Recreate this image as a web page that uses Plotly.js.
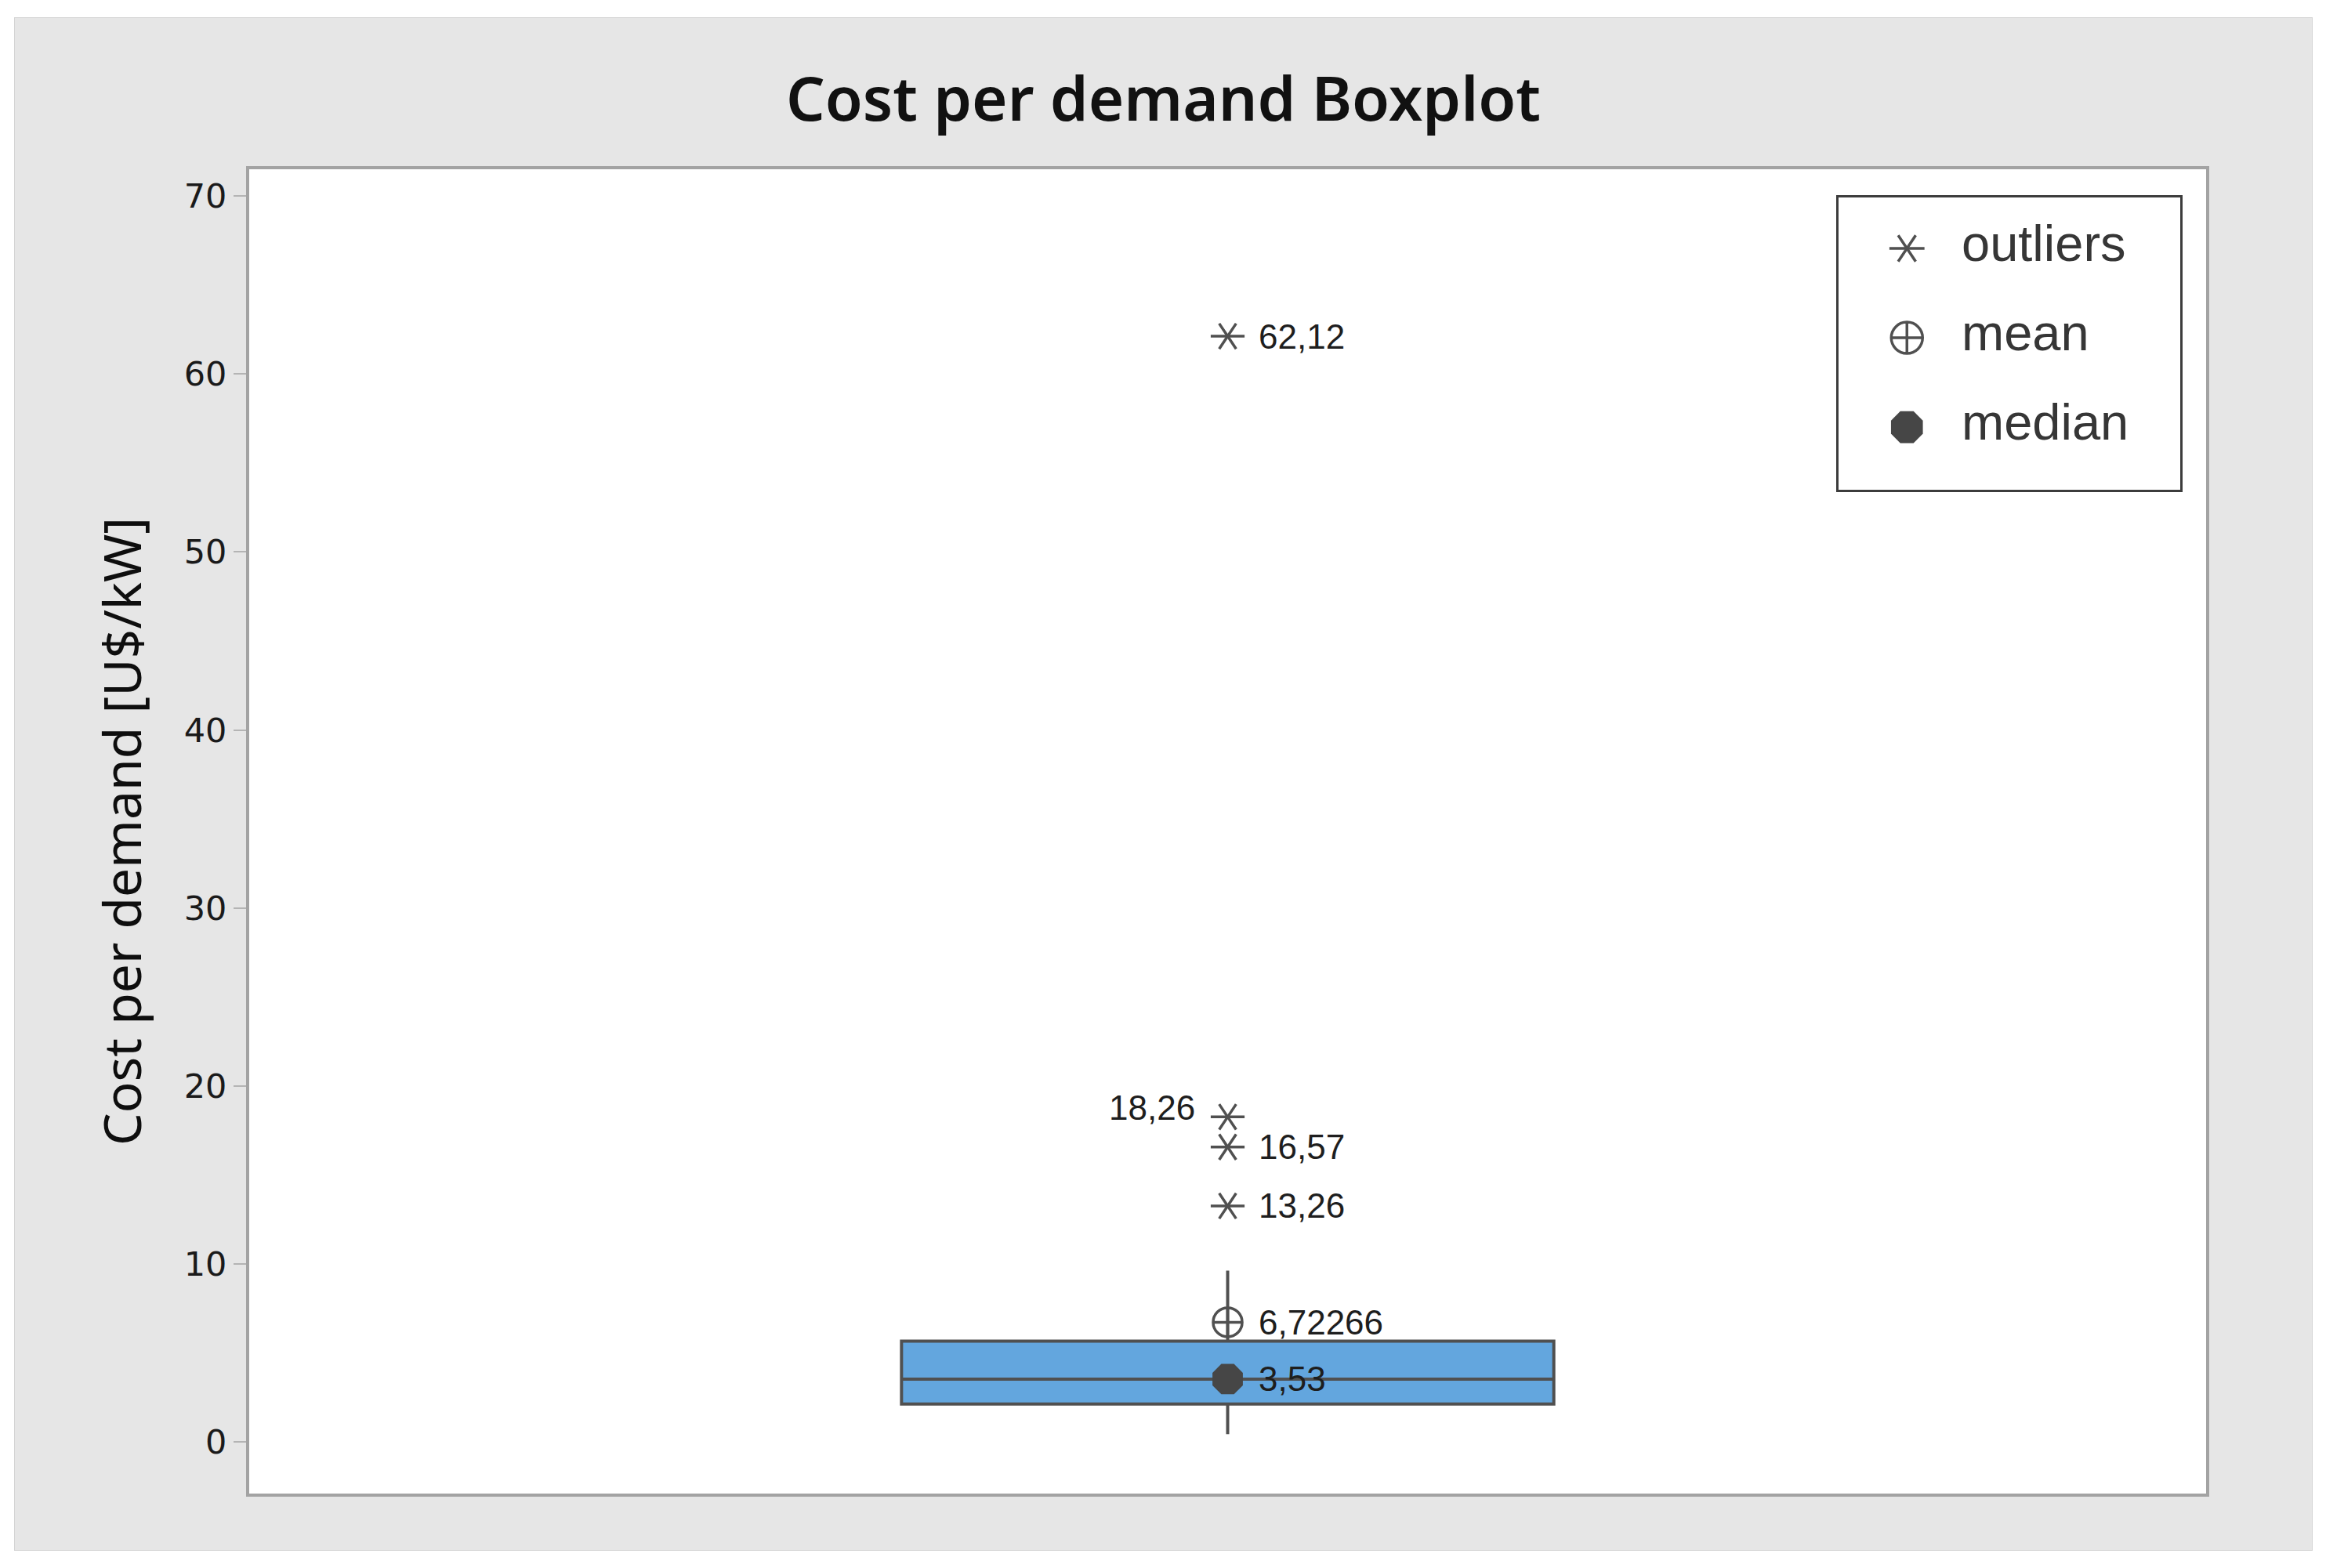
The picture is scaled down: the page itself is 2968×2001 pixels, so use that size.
<!DOCTYPE html>
<html>
<head>
<meta charset="utf-8">
<script src="https://cdn.plot.ly/plotly-3.0.1.min.js"></script>
<style>
  html, body { margin: 0; padding: 0; background: #ffffff; }
  #chart {
    position: absolute;
    left: 19px;
    top: 23px;
    width: 2931px;
    height: 1955px;
    box-shadow: 0 0 0 1px #d4d4d4;
  }
</style>
</head>
<body>
<div id="chart"></div>
<script>
// summary values
const boxQ1 = [2.13];
const boxMedian = [3.53];
const boxQ3 = [5.66];
const boxLowerFence = [0.44];
const boxUpperFence = [9.62];
const meanValue = [6.72266];

const outlierValues = [62.12, 18.26, 16.57, 13.26];
const outlierLabels = ["62,12", "18,26", "16,57", "13,26"];
const meanLabel = "6,72266";
const medianLabel = "3,53";

const legendLabels = ["outliers", "mean", "median"];
const yTickValues = [0, 10, 20, 30, 40, 50, 60, 70];

const chartEl = document.getElementById("chart");

const GRAY = "#505050";
const DARK = "#464646";
const LABEL_FONT = { family: "Liberation Sans, Arial, sans-serif", size: 44, color: "#1e1e1e" };

function sameX(values, x) {
  return values.map(function() { return x; });
}

function buildBoxTrace() {
  return {
    type: "box",
    x: [0],
    q1: boxQ1,
    median: boxMedian,
    q3: boxQ3,
    lowerfence: boxLowerFence,
    upperfence: boxUpperFence,
    width: 1,
    whiskerwidth: 0,
    fillcolor: "#63a6de",
    line: { color: GRAY, width: 4 },
    boxpoints: false,
    hoverinfo: "skip",
    showlegend: false,
  };
}

// markers for one symbol; axes default to the main plot
function markerTrace(xs, ys, symbol, size, extra) {
  const trace = {
    type: "scatter",
    mode: "markers",
    x: xs,
    y: ys,
    marker: {
      symbol: symbol,
      angle: symbol.indexOf("y-") === 0 ? 90 : 0,
      size: size,
      color: symbol === "octagon" ? DARK : GRAY,
      line: { color: GRAY, width: symbol === "octagon" ? 0 : 3.5 },
    },
    hoverinfo: "y",
    showlegend: false,
  };
  return Object.assign(trace, extra || {});
}

// the Minitab asterisk has six spokes: two rotated "y" symbols on top of each other
function buildPlotMarkers() {
  return [
    markerTrace(sameX(outlierValues, 0), outlierValues, "y-up-open", 27),
    markerTrace(sameX(outlierValues, 0), outlierValues, "y-down-open", 27),
    markerTrace(sameX(meanValue, 0), meanValue, "circle-cross-open", 37),
    markerTrace(sameX(boxMedian, 0), boxMedian, "octagon", 42),
  ];
}

function valueAnnotation(y, text, side) {
  return {
    xref: "x",
    yref: "y",
    x: 0,
    y: y,
    text: text,
    showarrow: false,
    xanchor: side === "left" ? "right" : "left",
    xshift: side === "left" ? -40 : 37,
    yshift: side === "left" ? 12 : 0,
    font: LABEL_FONT,
  };
}

function buildAnnotations() {
  const notes = outlierValues.map(function(value, i) {
    // 18,26 sits on the left so it does not collide with 16,57
    const side = outlierLabels[i] === "18,26" ? "left" : "right";
    return valueAnnotation(value, outlierLabels[i], side);
  });
  notes.push(valueAnnotation(meanValue[0], meanLabel, "right"));
  notes.push(valueAnnotation(boxMedian[0], medianLabel, "right"));
  return notes;
}

// hand made legend on its own small pair of axes, so the symbols can be big
function buildLegendTraces() {
  const onLegend = { xaxis: "x2", yaxis: "y2", hoverinfo: "skip" };
  return [
    markerTrace([0.2], [legendLabels[0]], "y-up-open", 28, onLegend),
    markerTrace([0.2], [legendLabels[0]], "y-down-open", 28, onLegend),
    markerTrace([0.2], [legendLabels[1]], "circle-cross-open", 40, onLegend),
    markerTrace([0.2], [legendLabels[2]], "octagon", 44, onLegend),
    {
      type: "scatter",
      mode: "text",
      xaxis: "x2",
      yaxis: "y2",
      x: sameX(legendLabels, 0.36),
      y: legendLabels,
      text: legendLabels,
      textposition: "middle right",
      textfont: { family: "Liberation Sans, Arial, sans-serif", size: 65, color: "#363636" },
      hoverinfo: "skip",
      showlegend: false,
    },
  ];
}

function renderChart() {
  const traces = [buildBoxTrace()]
    .concat(buildPlotMarkers())
    .concat(buildLegendTraces());

  const layout = {
    width: 2931,
    height: 1955,
    paper_bgcolor: "#e6e6e6",
    plot_bgcolor: "#ffffff",
    margin: { l: 299, r: 135, t: 193, b: 72 },
    showlegend: false,
    title: {
      text: "Cost per demand Boxplot",
      font: { family: "Noto Sans, Open Sans, sans-serif", size: 78, weight: 600, color: "#111111" },
      xref: "container",
      yref: "container",
      x: 0.5,
      y: 0.947,
      xanchor: "center",
      yanchor: "middle",
    },
    xaxis: {
      range: [-1.5, 1.5],
      showticklabels: false,
      ticks: "",
      showgrid: false,
      zeroline: false,
      showline: true,
      mirror: true,
      linecolor: "#a3a3a3",
      linewidth: 4,
      fixedrange: true,
    },
    yaxis: {
      range: [-2.9, 71.5],
      tickvals: yTickValues,
      ticktext: yTickValues.map(String),
      ticks: "outside",
      ticklen: 16,
      tickwidth: 2,
      tickcolor: "#b4b4b4",
      tickfont: { family: "DejaVu Sans, Verdana, sans-serif", size: 43, color: "#1a1a1a" },
      showgrid: false,
      zeroline: false,
      showline: true,
      mirror: true,
      linecolor: "#a3a3a3",
      linewidth: 4,
      fixedrange: true,
      title: {
        text: "Cost per demand [U$/kW]",
        font: { family: "Noto Sans, Open Sans, sans-serif", size: 66, color: "#0e0e0e" },
        standoff: 34,
      },
    },
    xaxis2: {
      domain: [0.8122, 0.9868],
      anchor: "y2",
      range: [0, 1],
      showticklabels: false,
      ticks: "",
      showgrid: false,
      zeroline: false,
      showline: true,
      mirror: true,
      linecolor: "#3c3c3c",
      linewidth: 3,
      fixedrange: true,
    },
    yaxis2: {
      domain: [0.758, 0.9787],
      anchor: "x2",
      type: "category",
      categoryorder: "array",
      categoryarray: legendLabels,
      range: [2.7, -0.57],
      showticklabels: false,
      ticks: "",
      showgrid: false,
      zeroline: false,
      showline: true,
      mirror: true,
      linecolor: "#3c3c3c",
      linewidth: 3,
      fixedrange: true,
    },
    annotations: buildAnnotations(),
  };

  Plotly.newPlot(chartEl, traces, layout, { displayModeBar: false, responsive: false });
}

renderChart();
</script>
</body>
</html>
